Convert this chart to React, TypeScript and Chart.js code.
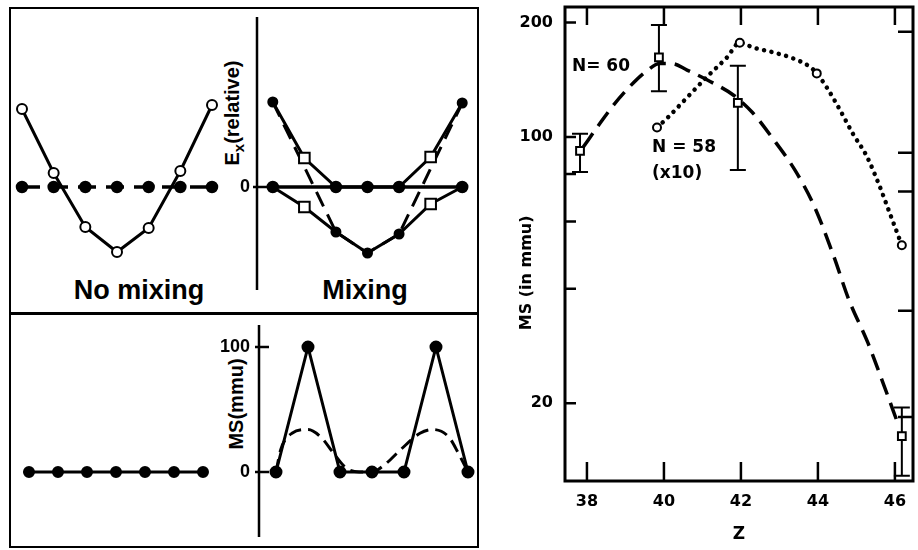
import React, { useEffect, useRef } from 'react';
import { Chart, registerables } from 'chart.js';
Chart.register(...registerables);

// ---------- Left figure: level schemes (relative units) ----------
const levelIndex = [0, 1, 2, 3, 4, 5, 6];
const noMixParabola = [78, 14, -40, -65, -41, 16, 82];
const noMixFlat = [0, 0, 0, 0, 0, 0, 0];
const mixUpper = [85, 29, 0, 0, 0, 30, 84];
const mixLower = [0, -20, -45, -66, -47, -17, 0];
const mixZero = [0, 0, 0, 0, 0, 0, 0];
const mixDashed = [85, null, -45, -66, -47, null, 84];
const exTicks = [0];

const noMixMS = [0, 0, 0, 0, 0, 0, 0];
const mixMS = [0, 100, 0, 0, 0, 100, 0];
const mixMSDashedX = [0, 0.15, 0.5, 1.0, 1.4, 1.8, 2.2, 2.6, 3.0, 3.4, 3.9, 4.5, 4.9, 5.4, 5.7, 6.0];
const mixMSDashedY = [0, 18, 31, 34, 28, 15, 3, 0, 0, 6, 18, 31, 34, 28, 15, 0];
const msTicks = [0, 100];

// ---------- Right figure: MS vs Z ----------
const zTicks = [38, 40, 42, 44, 46];
const msLeftTicks = [200, 100, 80, 60, 40, 20];
const msLabeledTicks = [200, 100, 20];
const msRightTicks = [189, 91, 72, 35, 18.4];

const n60Z = [37.82, 39.87, 41.92, 46.18];
const n60MS = [92, 162, 123, 16.4];
const n60Low = [81, 132, 82, 12.9];
const n60High = [102, 197, 154, 19.5];
const n60CurveZ = [37.9, 38.29, 38.68, 39.12, 39.51, 39.9, 40.2, 40.6, 41.2, 41.8, 42.3, 42.8, 43.4, 43.9, 44.4, 44.8, 45.3, 45.7, 46.05];
const n60CurveMS = [94, 107, 121, 136, 148, 156, 156, 150, 140, 129, 116, 100, 82, 66, 49, 37.5, 28.8, 22.5, 18];

const n58Z = [39.82, 41.97, 43.97, 46.18];
const n58MS = [106, 177, 147, 52];
const n58CurveZ = [39.82, 40.08, 40.6, 41.12, 41.64, 41.97, 42.31, 42.83, 43.35, 43.79, 43.97, 44.23, 44.57, 44.91, 45.27, 45.61, 45.87, 46.18];
const n58CurveMS = [106, 112, 127, 144, 162, 177, 172, 167, 161, 153, 147, 135, 118, 102, 89, 74, 63, 52];

const annotationTexts = ['N= 60', 'N = 58', '(x10)'];
const annotationZ = [37.61, 39.69, 39.69];
const annotationMS = [153, 94, 80.4];
const rightYTitle = 'MS (in mmu)';
const rightXTitle = 'Z';

Chart.defaults.color = '#000';
Chart.defaults.font.family = '"Liberation Sans", Arial, sans-serif';

const pts = (xs: number[], ys: (number | null)[]) => xs.map((x, i) => ({ x, y: ys[i] }));
const quiet = { legend: { display: false }, tooltip: { enabled: false } };
const BLACK = '#000';
const noPad = { padding: 0, autoPadding: false };
const zeroPad = (s: any) => { s.paddingTop = 0; s.paddingBottom = 0; s.paddingLeft = 0; s.paddingRight = 0; };

const mixStyle = ['circle', 'rect', 'circle', 'circle', 'circle', 'rect', 'circle'];
const mixRadius = mixStyle.map((s) => (s === 'rect' ? 7.5 : 4.5));
const mixFill = mixStyle.map((s) => (s === 'rect' ? '#fff' : BLACK));

const axisPlugin = {
  id: 'axisLine',
  afterDraw(chart: any) {
    const { ctx, chartArea: a } = chart;
    const y = chart.scales.y;
    ctx.save();
    ctx.strokeStyle = BLACK;
    ctx.lineWidth = 2.5;
    ctx.beginPath();
    ctx.moveTo(a.left, a.top);
    ctx.lineTo(a.left, a.bottom);
    y.ticks.forEach((t: any) => {
      const py = y.getPixelForValue(t.value);
      ctx.moveTo(a.left - 4, py);
      ctx.lineTo(a.left + 10, py);
    });
    ctx.stroke();
    ctx.restore();
  },
};

const rightPlugin = {
  id: 'rightFrame',
  beforeDatasetsDraw(chart: any) {
    const { ctx } = chart;
    const x = chart.scales.x;
    const y = chart.scales.y;
    ctx.save();
    ctx.strokeStyle = BLACK;
    ctx.lineWidth = 2;
    ctx.beginPath();
    n60Z.forEach((z, i) => {
      const px = x.getPixelForValue(z);
      const lo = y.getPixelForValue(n60Low[i]);
      const hi = y.getPixelForValue(n60High[i]);
      ctx.moveTo(px, lo);
      ctx.lineTo(px, hi);
      ctx.moveTo(px - 8, lo);
      ctx.lineTo(px + 8, lo);
      ctx.moveTo(px - 8, hi);
      ctx.lineTo(px + 8, hi);
    });
    ctx.stroke();
    ctx.restore();
  },
  afterDraw(chart: any) {
    const { ctx, chartArea: a } = chart;
    const x = chart.scales.x;
    const y = chart.scales.y;
    ctx.save();
    ctx.strokeStyle = BLACK;
    ctx.lineWidth = 3;
    ctx.strokeRect(a.left, a.top, a.right - a.left, a.bottom - a.top);
    ctx.lineWidth = 2.5;
    ctx.beginPath();
    msLeftTicks.forEach((v) => {
      const py = y.getPixelForValue(v);
      ctx.moveTo(a.left, py);
      ctx.lineTo(a.left + 11, py);
    });
    msRightTicks.forEach((v) => {
      const py = y.getPixelForValue(v);
      ctx.moveTo(a.right - 15, py);
      ctx.lineTo(a.right, py);
    });
    zTicks.forEach((v) => {
      const px = x.getPixelForValue(v);
      ctx.moveTo(px, a.top);
      ctx.lineTo(px, a.top + 18);
      ctx.moveTo(px, a.bottom);
      ctx.lineTo(px, a.bottom - 19);
    });
    ctx.stroke();
    ctx.fillStyle = BLACK;
    ctx.font = 'bold 17px "DejaVu Sans"';
    ctx.textAlign = 'left';
    ctx.textBaseline = 'middle';
    annotationTexts.forEach((t, i) => {
      ctx.fillText(t, x.getPixelForValue(annotationZ[i]), y.getPixelForValue(annotationMS[i]));
    });
    ctx.save();
    ctx.translate(a.left - 38, y.getPixelForValue(44));
    ctx.rotate(-Math.PI / 2);
    ctx.textAlign = 'center';
    ctx.font = 'bold 16px "DejaVu Sans"';
    ctx.fillText(rightYTitle, 0, 0);
    ctx.restore();
    ctx.restore();
  },
};

const leftTickFont = { family: '"Liberation Sans", Arial, sans-serif', size: 18, weight: 'bold' as const };

function makeTopLeft(): any {
  return {
    type: 'line',
    data: {
      datasets: [
        { data: pts(levelIndex, noMixParabola), borderColor: BLACK, borderWidth: 3, pointRadius: 5, pointBorderWidth: 2, pointBackgroundColor: '#fff', pointBorderColor: BLACK, clip: false },
        { data: pts(levelIndex, noMixFlat), borderColor: BLACK, borderWidth: 3.5, borderDash: [18, 10], pointRadius: 4.5, pointBackgroundColor: BLACK, pointBorderColor: BLACK, clip: false },
      ],
    },
    options: {
      responsive: false, animation: false, layout: noPad, plugins: quiet,
      scales: { x: { type: 'linear', display: false, min: -0.379, max: 6.884 }, y: { type: 'linear', display: false, min: -103, max: 170 } },
    },
  };
}

function makeTopRight(): any {
  return {
    type: 'line',
    data: {
      datasets: [
        { data: pts(levelIndex, mixUpper), borderColor: BLACK, borderWidth: 3, pointStyle: mixStyle, pointRadius: mixRadius, pointBackgroundColor: mixFill, pointBorderColor: BLACK, pointBorderWidth: 2, clip: false },
        { data: pts(levelIndex, mixLower), borderColor: BLACK, borderWidth: 3, pointStyle: mixStyle, pointRadius: mixRadius, pointBackgroundColor: mixFill, pointBorderColor: BLACK, pointBorderWidth: 2, clip: false },
        { data: pts(levelIndex, mixZero), borderColor: BLACK, borderWidth: 3.5, pointRadius: mixStyle.map((s) => (s === 'rect' ? 0 : 4.5)), pointBackgroundColor: BLACK, pointBorderColor: BLACK, clip: false },
        { data: pts(levelIndex, mixDashed), borderColor: BLACK, borderWidth: 3, borderDash: [16, 9], pointRadius: 0, spanGaps: true, clip: false },
      ],
    },
    options: {
      responsive: false, animation: false, layout: noPad, plugins: quiet,
      scales: {
        x: { type: 'linear', display: false, min: -0.5, max: 6.5 },
        y: {
          type: 'linear', position: 'left', min: -103, max: 170,
          afterBuildTicks: (s: any) => { s.ticks = exTicks.map((v) => ({ value: v })); },
          afterFit: (s: any) => { s.width = 42; zeroPad(s); },
          grid: { display: false, drawTicks: false }, border: { display: false },
          ticks: { color: BLACK, padding: 7, font: leftTickFont },
        },
      },
    },
    plugins: [axisPlugin],
  };
}

function makeBottomLeft(): any {
  return {
    type: 'line',
    data: {
      datasets: [
        { data: pts(levelIndex, noMixMS), borderColor: BLACK, borderWidth: 3, pointRadius: 4.5, pointBackgroundColor: BLACK, pointBorderColor: BLACK, clip: false },
      ],
    },
    options: {
      responsive: false, animation: false, layout: noPad, plugins: quiet,
      scales: { x: { type: 'linear', display: false, min: -0.655, max: 7.276 }, y: { type: 'linear', display: false, min: -52, max: 117.6 } },
    },
  };
}

function makeBottomRight(): any {
  return {
    type: 'line',
    data: {
      datasets: [
        { data: pts(levelIndex, mixMS), borderColor: BLACK, borderWidth: 3, pointRadius: 5, pointBackgroundColor: BLACK, pointBorderColor: BLACK, clip: false },
        { data: pts(mixMSDashedX, mixMSDashedY), borderColor: BLACK, borderWidth: 3, borderDash: [13, 7], pointRadius: 0, cubicInterpolationMode: 'monotone', clip: false },
      ],
    },
    options: {
      responsive: false, animation: false, layout: noPad, plugins: quiet,
      scales: {
        x: { type: 'linear', display: false, min: -0.531, max: 6.313 },
        y: {
          type: 'linear', position: 'left', min: -52, max: 117.6,
          afterBuildTicks: (s: any) => { s.ticks = msTicks.map((v) => ({ value: v })); },
          afterFit: (s: any) => { s.width = 44; zeroPad(s); },
          grid: { display: false, drawTicks: false }, border: { display: false },
          ticks: { color: BLACK, padding: 9, font: leftTickFont },
        },
      },
    },
    plugins: [axisPlugin],
  };
}

const rightFont = { family: '"DejaVu Sans", sans-serif', size: 16, weight: 'bold' as const };

function makeRight(): any {
  return {
    type: 'line',
    data: {
      datasets: [
        { label: 'N=60', data: pts(n60Z, n60MS), showLine: false, pointStyle: 'rect', pointRadius: 5.5, pointBackgroundColor: '#fff', pointBorderColor: BLACK, pointBorderWidth: 2, clip: false },
        { label: 'N=58 (x10)', data: pts(n58Z, n58MS), showLine: false, pointStyle: 'circle', pointRadius: 4, pointBackgroundColor: '#fff', pointBorderColor: BLACK, pointBorderWidth: 2, clip: false },
        { label: 'N=60 curve', data: pts(n60CurveZ, n60CurveMS), borderColor: BLACK, borderWidth: 3.5, borderDash: [17, 9], pointRadius: 0, cubicInterpolationMode: 'monotone', clip: false },
        { label: 'N=58 curve', data: pts(n58CurveZ, n58CurveMS), borderColor: BLACK, borderWidth: 4.5, borderDash: [0.1, 7.5], borderCapStyle: 'round', pointRadius: 0, cubicInterpolationMode: 'monotone', clip: false },
      ],
    },
    options: {
      responsive: false, animation: false,
      layout: { padding: { top: 7, right: 5, left: 0, bottom: 0 }, autoPadding: false },
      plugins: quiet,
      scales: {
        x: {
          type: 'linear', min: 37.43, max: 46.47,
          afterBuildTicks: (s: any) => { s.ticks = zTicks.map((v) => ({ value: v })); },
          afterFit: (s: any) => { s.height = 69; zeroPad(s); },
          grid: { display: false, drawTicks: false }, border: { display: false },
          ticks: { color: BLACK, padding: 11, font: rightFont, maxRotation: 0 },
          title: { display: true, text: rightXTitle, color: BLACK, font: { ...rightFont, size: 17 }, padding: { top: 0, bottom: 5 } },
        },
        y: {
          type: 'logarithmic', min: 12.5, max: 219.6,
          afterBuildTicks: (s: any) => { s.ticks = msLeftTicks.map((v) => ({ value: v })); },
          afterFit: (s: any) => { s.width = 55; zeroPad(s); },
          grid: { display: false, drawTicks: false }, border: { display: false },
          ticks: { color: BLACK, padding: 12, font: rightFont, callback: (v: any) => (msLabeledTicks.includes(Number(v)) ? String(v) : '') },
        },
      },
    },
    plugins: [rightPlugin],
  };
}

function ChartCanvas({ left, top, width, height, make }: { left: number; top: number; width: number; height: number; make: () => any }) {
  const ref = useRef<HTMLCanvasElement | null>(null);
  useEffect(() => {
    const chart = new Chart(ref.current as HTMLCanvasElement, make());
    return () => chart.destroy();
  }, []);
  return (
    <canvas ref={ref} width={width} height={height}
      style={{ position: 'absolute', left, top, width, height, display: 'block' }} />
  );
}

const labelFont = 'bold 20px "Liberation Sans", Arial, sans-serif';

export default function App() {
  return (
    <div style={{ position: 'absolute', left: 0, top: 0, width: 918, height: 550, background: '#fff', overflow: 'hidden' }}>
      {/* left framed figure */}
      <div style={{ position: 'absolute', left: 9, top: 7, width: 470, height: 541, border: '2.5px solid #000', boxSizing: 'border-box' }} />
      <div style={{ position: 'absolute', left: 9, top: 312, width: 470, height: 2.5, background: '#000' }} />

      <div style={{ position: 'absolute', left: 39, top: 277, width: 200, textAlign: 'center', font: 'bold 27px "Liberation Sans", Arial, sans-serif', lineHeight: '27px', whiteSpace: 'nowrap' }}>No mixing</div>
      <div style={{ position: 'absolute', left: 265, top: 277, width: 200, textAlign: 'center', font: 'bold 27px "Liberation Sans", Arial, sans-serif', lineHeight: '27px', whiteSpace: 'nowrap' }}>Mixing</div>

      <div style={{ position: 'absolute', left: 233, top: 113, transform: 'translate(-50%, -50%) rotate(-90deg)', font: labelFont, lineHeight: '20px', whiteSpace: 'nowrap' }}>
        E<span style={{ fontSize: '0.75em', position: 'relative', top: '0.3em' }}>x</span>(relative)
      </div>
      <div style={{ position: 'absolute', left: 236, top: 404, transform: 'translate(-50%, -50%) rotate(-90deg)', font: labelFont, lineHeight: '20px', whiteSpace: 'nowrap' }}>
        MS(mmu)
      </div>

      <ChartCanvas left={10} top={17} width={230} height={273} make={makeTopLeft} />
      <ChartCanvas left={215} top={17} width={263} height={273} make={makeTopRight} />
      <ChartCanvas left={10} top={325} width={230} height={212} make={makeBottomLeft} />
      <ChartCanvas left={215} top={325} width={263} height={212} make={makeBottomRight} />

      {/* right figure */}
      <ChartCanvas left={510} top={0} width={408} height={550} make={makeRight} />
    </div>
  );
}
